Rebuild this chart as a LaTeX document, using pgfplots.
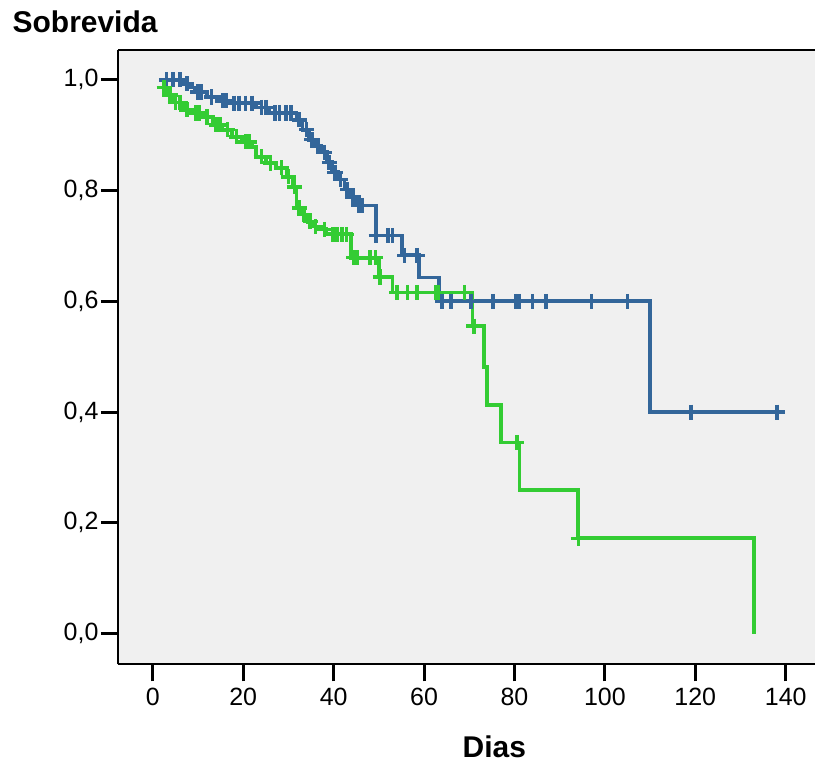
\documentclass[border=0pt]{standalone}
\usepackage{fontspec}
\setmainfont{Liberation Sans}
\usepackage{pgfplots}
\pgfplotsset{compat=1.18}
\definecolor{kmBlue}{HTML}{33669A}
\definecolor{kmGreen}{HTML}{33CC33}
\definecolor{plotBg}{HTML}{F0F0F0}

\begin{document}
\begin{tikzpicture}
\begin{axis}[
  scale only axis, width=349pt, height=307.5pt,
  xmin=-7.74, xmax=146.5, ymin=-0.0554, ymax=1.054,
  axis x line*=bottom, axis y line*=left,
  axis line style={-, line width=0.9pt, black},
  axis background/.style={fill=plotBg},
  xtick={0,20,40,60,80,100,120,140}, ytick={0,0.2,0.4,0.6,0.8,1.0},
  tick align=outside, major tick length=8.5pt,
  tick style={line width=1.5pt, black},
  /pgf/number format/assume math mode=true,
  tick label style={font=\fontsize{12.5}{14}\selectfont},
  y tick label style={inner xsep=1pt,
    /pgf/number format/fixed, /pgf/number format/fixed zerofill,
    /pgf/number format/precision=1, /pgf/number format/use comma},
  clip=false,
  xlabel={Dias}, ylabel={Sobrevida},
  label style={font=\bfseries\fontsize{15}{18}\selectfont},
  xlabel style={at={(rel axis cs:0.540,-0.151)}, anchor=base},
  ylabel style={at={(rel axis cs:-0.161,1.0276)}, anchor=base west, rotate=-90},
]
% survival curves
\addplot[const plot, kmBlue, line width=1.9pt] coordinates {
(1.5,1.000)(7.0,0.993)(8.1,0.986)(9.4,0.978)(11.9,0.969)(14.7,0.962)(17.0,0.958)
(22.9,0.950)(25.8,0.940)(31.8,0.928)(33.1,0.910)(34.6,0.892)(35.9,0.880)(37.3,0.869)
(38.6,0.851)(39.7,0.833)(41.0,0.820)(42.4,0.802)(43.7,0.788)(45.0,0.773)(49.4,0.719)
(55.2,0.683)(58.9,0.643)(63.3,0.600)(110.0,0.400)(139.6,0.400)};
\addplot[const plot, kmGreen, line width=1.9pt] coordinates {
(1.9,0.986)(3.2,0.973)(4.4,0.959)(6.6,0.946)(8.8,0.940)(11.0,0.933)(13.2,0.919)
(15.4,0.910)(17.6,0.897)(19.8,0.888)(22.0,0.879)(22.9,0.861)(25.1,0.850)(27.3,0.841)
(29.6,0.825)(31.0,0.807)(31.8,0.769)(32.9,0.757)(34.2,0.744)(35.3,0.735)(37.3,0.730)
(38.4,0.721)(43.9,0.679)(50.1,0.644)(53.0,0.616)(70.7,0.555)(73.3,0.482)(74.0,0.413)
(77.1,0.345)(81.1,0.259)(94.1,0.172)(133.0,0.000)};
% censored cases
\addplot[only marks, mark=+, mark size=3.8pt, kmBlue, line width=1.8pt] coordinates {
(3,1.0)(4.5,1.0)(6,1.0)(7.5,0.993)(10,0.978)(10.8,0.978)(13,0.969)(15.5,0.962)
(16.2,0.962)(18,0.958)(19,0.958)(20.5,0.958)(22,0.958)(24,0.950)(25,0.950)(27,0.940)
(28,0.940)(29.5,0.940)(30.5,0.940)(32.4,0.928)(34,0.910)(35.2,0.892)(36.5,0.880)
(38,0.869)(39,0.851)(40.3,0.833)(41.5,0.820)(43,0.802)(44.3,0.788)(45.5,0.773)
(46.3,0.773)(49.4,0.719)(52,0.719)(53,0.719)(55.7,0.683)(58.5,0.683)(64,0.6)(66,0.6)
(70.4,0.6)(75.3,0.6)(80.2,0.6)(81,0.6)(84,0.6)(87,0.6)(97,0.6)(105,0.6)(119.1,0.4)(138.1,0.4)};
\addplot[only marks, mark=+, mark size=3.8pt, kmGreen, line width=1.8pt] coordinates {
(2.5,0.986)(3.8,0.973)(5,0.959)(6,0.959)(7.5,0.946)(9.5,0.940)(10.3,0.940)(12,0.933)
(14,0.919)(14.8,0.919)(16.5,0.910)(18.5,0.897)(20.5,0.888)(21.3,0.888)(24,0.861)
(26,0.850)(28.5,0.841)(30,0.825)(31.3,0.807)(32.4,0.769)(33.5,0.757)(34.8,0.744)
(36,0.735)(38,0.730)(39.8,0.721)(40.8,0.721)(41.8,0.721)(42.8,0.721)(44.5,0.679)
(45.3,0.679)(48,0.679)(49.3,0.679)(50.3,0.644)(54,0.616)(56.3,0.616)(58.5,0.616)
(62.5,0.616)(63.2,0.616)(68.9,0.616)(71,0.555)(80.5,0.345)(94.2,0.172)};
\draw[line width=0.9pt, black] (rel axis cs:0,1) -- (rel axis cs:1,1);
\path (rel axis cs:-0.169,-0.1659) rectangle (rel axis cs:1,1.0813);
\end{axis}
\end{tikzpicture}
\end{document}
